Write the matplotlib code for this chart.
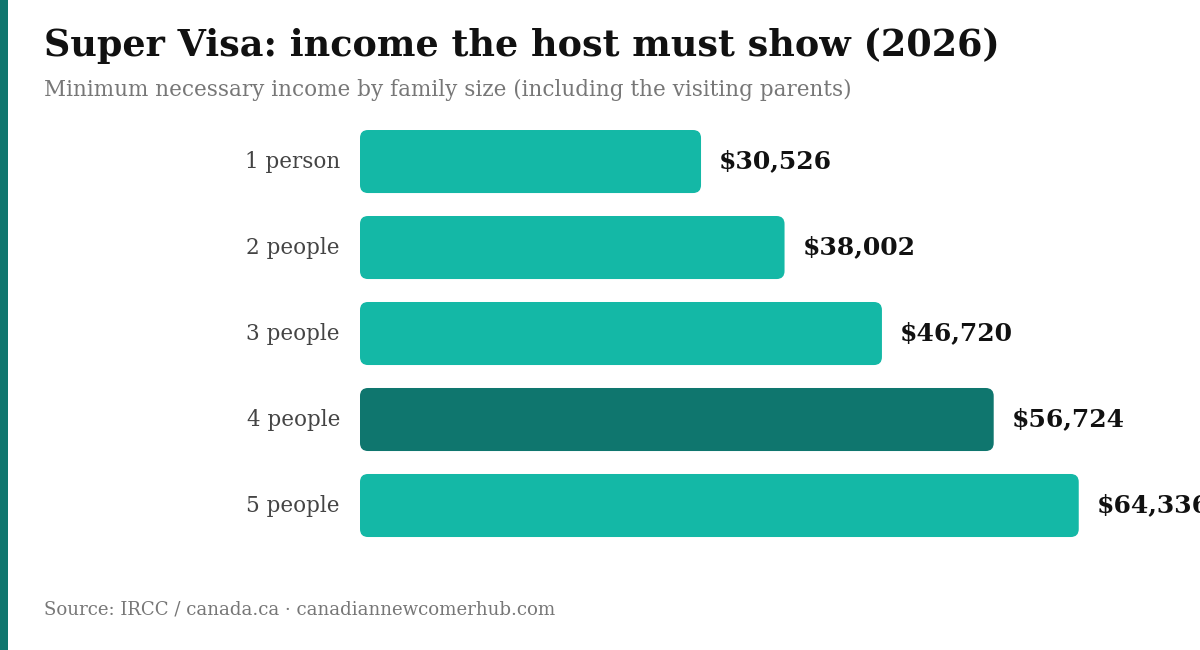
import matplotlib
matplotlib.use("Agg")
import matplotlib.pyplot as plt
from matplotlib.patches import FancyBboxPatch, Rectangle

categorias = ["1 person", "2 people", "3 people", "4 people", "5 people"]
renda = [30526, 38002, 46720, 56724, 64336]
destaque = "4 people"

COR_BARRA = "#14b8a6"
COR_DESTAQUE = "#0f766e"

plt.rcParams["font.family"] = ["DejaVu Serif"]

fig = plt.figure(figsize=(12, 6.5), dpi=100)
fig.patch.set_facecolor("white")

# faixa lateral
fig.patches.append(Rectangle((0, 0), 8 / 1200, 1, transform=fig.transFigure,
                             facecolor=COR_DESTAQUE, edgecolor="none"))

ax = fig.add_axes([0.3, 0.15615, 0.7, 0.6615])
pos = list(range(len(categorias)))
cores = [COR_DESTAQUE if c == destaque else COR_BARRA for c in categorias]
barras = ax.barh(pos, renda, height=0.733, color=cores)

ax.set_xlim(0, 75190)
ax.set_ylim(4.5, -0.5)
ax.axis("off")

# troca os retângulos por caixas arredondadas
px_x = 75190 / 840
px_y = 5 / 430
for b in barras:
    b.set_visible(False)
    caixa = FancyBboxPatch(
        (b.get_x(), b.get_y()), b.get_width(), b.get_height(),
        boxstyle=f"round,pad=0,rounding_size={8 * px_x}",
        mutation_aspect=px_y / px_x,
        facecolor=b.get_facecolor(), edgecolor="none", clip_on=False)
    ax.add_patch(caixa)

for i, (c, v) in enumerate(zip(categorias, renda)):
    ax.text(-20 * px_x, i, c, ha="right", va="center", fontsize=15.5,
            color="#444444", clip_on=False)
    ax.text(v + 18 * px_x, i, f"${v:,}", ha="left", va="center",
            fontsize=18, fontweight="bold", color="#111111", clip_on=False)

fig.text(44 / 1200, 1 - 46 / 650, "Super Visa: income the host must show (2026)",
         ha="left", va="center", fontsize=26.3, fontweight="bold", color="#111111")
fig.text(44 / 1200, 1 - 90 / 650,
         "Minimum necessary income by family size (including the visiting parents)",
         ha="left", va="center", fontsize=15.5, color="#777777")
fig.text(44 / 1200, 1 - 610 / 650,
         "Source: IRCC / canada.ca · canadiannewcomerhub.com",
         ha="left", va="center", fontsize=13.1, color="#777777")

fig.savefig("out.png", dpi=100, facecolor="white")
